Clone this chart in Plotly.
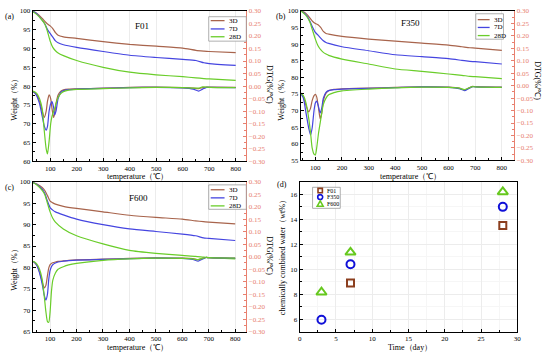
import plotly.graph_objects as go

# ---------------- data ----------------
series_names = ["3D", "7D", "28D"]

# Panel (a) F01 - TG (weight %)
temp_tg_a = [30, 50, 70, 80, 90, 100, 110, 120, 130, 150, 200, 300, 400, 500, 600, 650, 680, 700, 800]
f01_tg_3d = [100, 99.3, 98.0, 97.2, 96.5, 96.0, 95.3, 94.2, 93.5, 93.1, 92.7, 91.8, 91.1, 90.6, 90.1, 89.5, 89.3, 89.2, 88.9]
f01_tg_7d = [100, 99.2, 97.5, 96.5, 95.0, 94.0, 93.0, 92.0, 91.5, 91.0, 90.3, 89.2, 88.2, 87.6, 87.1, 86.8, 86.2, 86.0, 85.5]
f01_tg_28d = [100, 99.0, 97.5, 96.5, 94.5, 92.0, 90.3, 89.4, 88.8, 88.1, 86.8, 85.0, 83.7, 83.0, 82.5, 82.2, 82.0, 81.9, 81.5]

# Panel (a) F01 - DTG (%/℃)
temp_dtg_a = [30, 40, 50, 60, 70, 78, 85, 90, 96, 102, 107, 113, 117, 122, 130, 140, 150, 170, 200, 300, 400, 500, 600, 640, 660, 675, 690, 700, 800]
f01_dtg_3d = [-0.02, -0.025, -0.035, -0.06, -0.10, -0.125, -0.10, -0.06, -0.035, -0.05, -0.09, -0.125, -0.11, -0.07, -0.035, -0.02, -0.015, -0.012, -0.011, -0.008, -0.005, -0.004, -0.006, -0.008, -0.010, -0.006, -0.004, -0.004, -0.005]
f01_dtg_7d = [-0.02, -0.025, -0.04, -0.07, -0.12, -0.16, -0.175, -0.16, -0.10, -0.07, -0.062, -0.085, -0.115, -0.10, -0.05, -0.025, -0.018, -0.014, -0.012, -0.009, -0.006, -0.005, -0.007, -0.012, -0.020, -0.012, -0.005, -0.005, -0.006]
f01_dtg_28d = [-0.02, -0.022, -0.03, -0.05, -0.09, -0.18, -0.25, -0.27, -0.22, -0.15, -0.12, -0.10, -0.09, -0.07, -0.045, -0.03, -0.022, -0.016, -0.013, -0.010, -0.007, -0.005, -0.006, -0.008, -0.008, -0.003, -0.004, -0.005, -0.006]

# Panel (b) F350 - TG
temp_tg_b = [45, 60, 70, 80, 90, 100, 110, 120, 130, 140, 150, 200, 300, 400, 500, 600, 650, 680, 700, 800]
f350_tg_3d = [100, 99.5, 98.8, 97.8, 96.8, 96.2, 95.8, 95.0, 93.8, 93.2, 93.0, 92.3, 91.5, 90.9, 90.3, 89.7, 89.2, 88.9, 88.8, 88.1]
f350_tg_7d = [100, 99.2, 98.3, 96.8, 95.0, 93.5, 92.7, 91.8, 91.0, 90.5, 90.2, 89.2, 88.0, 86.8, 86.2, 85.6, 85.1, 84.8, 84.7, 84.0]
f350_tg_28d = [100, 99.0, 98.0, 96.5, 94.0, 91.5, 89.5, 88.3, 87.5, 87.0, 86.6, 85.5, 84.0, 82.5, 81.8, 81.0, 80.6, 80.3, 80.2, 79.6]

# Panel (b) F350 - DTG
temp_dtg_b = [45, 55, 65, 75, 82, 88, 95, 100, 105, 112, 118, 124, 130, 140, 150, 170, 200, 300, 400, 500, 600, 640, 660, 675, 690, 700, 800]
f350_dtg_3d = [-0.03, -0.045, -0.08, -0.105, -0.09, -0.06, -0.04, -0.035, -0.045, -0.09, -0.133, -0.11, -0.06, -0.03, -0.02, -0.015, -0.013, -0.010, -0.007, -0.005, -0.006, -0.010, -0.018, -0.010, -0.003, -0.004, -0.006]
f350_dtg_7d = [-0.03, -0.05, -0.11, -0.17, -0.198, -0.17, -0.10, -0.07, -0.062, -0.085, -0.11, -0.09, -0.05, -0.027, -0.02, -0.016, -0.014, -0.011, -0.008, -0.005, -0.007, -0.012, -0.020, -0.012, -0.004, -0.005, -0.007]
f350_dtg_28d = [-0.03, -0.04, -0.07, -0.13, -0.19, -0.25, -0.275, -0.278, -0.25, -0.19, -0.15, -0.11, -0.075, -0.05, -0.037, -0.028, -0.021, -0.014, -0.009, -0.006, -0.007, -0.010, -0.016, -0.010, -0.004, -0.005, -0.007]

# Panel (c) F600 - TG
temp_tg_c = [30, 50, 70, 80, 90, 100, 110, 120, 150, 200, 300, 400, 500, 600, 650, 680, 700, 800]
f600_tg_3d = [100, 99.5, 98.7, 98.0, 96.8, 95.5, 95.1, 94.8, 94.3, 93.8, 93.0, 92.2, 91.7, 91.3, 90.9, 90.7, 90.6, 90.2]
f600_tg_7d = [100, 99.4, 98.3, 97.3, 95.5, 94.0, 93.4, 93.0, 92.3, 91.3, 90.0, 89.0, 88.4, 87.8, 87.4, 86.9, 86.8, 86.3]
f600_tg_28d = [100, 99.3, 98.0, 97.0, 95.0, 93.0, 91.5, 90.6, 89.0, 87.4, 85.5, 84.0, 83.3, 82.8, 82.6, 82.4, 82.3, 82.0]

# Panel (c) F600 - DTG
temp_dtg_c = [30, 40, 50, 60, 70, 78, 84, 90, 95, 100, 105, 110, 120, 130, 150, 170, 200, 300, 400, 500, 600, 640, 660, 675, 690, 700, 800]
f600_dtg_3d = [-0.017, -0.022, -0.035, -0.06, -0.10, -0.125, -0.115, -0.075, -0.045, -0.032, -0.027, -0.024, -0.021, -0.019, -0.017, -0.015, -0.013, -0.010, -0.007, -0.005, -0.006, -0.008, -0.012, -0.007, -0.003, -0.004, -0.006]
f600_dtg_7d = [-0.017, -0.022, -0.035, -0.065, -0.11, -0.155, -0.174, -0.15, -0.09, -0.055, -0.04, -0.032, -0.025, -0.021, -0.018, -0.016, -0.014, -0.011, -0.008, -0.006, -0.007, -0.011, -0.018, -0.010, -0.003, -0.004, -0.007]
f600_dtg_28d = [-0.017, -0.02, -0.03, -0.05, -0.09, -0.16, -0.22, -0.26, -0.263, -0.22, -0.14, -0.095, -0.065, -0.05, -0.04, -0.033, -0.027, -0.015, -0.009, -0.006, -0.007, -0.009, -0.012, -0.007, -0.003, -0.004, -0.006]

# Panel (d) chemically combined water
water_names = ["F01", "F350", "F600"]
days_f01 = [7, 28]
water_f01 = [8.9, 13.5]
days_f350 = [3, 7, 28]
water_f350 = [5.95, 10.4, 15.0]
days_f600 = [3, 7, 28]
water_f600 = [8.15, 11.35, 16.2]

# ---------------- style ----------------
C3, C7, C28 = "#A8644C", "#4545E0", "#6ACD2A"
CF01, CF350, CF600 = "#8B3E1E", "#1010D8", "#66C81E"
RED = "#E8806F"
FONT = "Liberation Serif"
GRID = "#ececec"
colors = [C3, C7, C28]
W, H = 550, 358

fig = go.Figure()

panels = [
    ("x", "y", "y5", temp_tg_a, [f01_tg_3d, f01_tg_7d, f01_tg_28d], temp_dtg_a, [f01_dtg_3d, f01_dtg_7d, f01_dtg_28d]),
    ("x2", "y2", "y6", temp_tg_b, [f350_tg_3d, f350_tg_7d, f350_tg_28d], temp_dtg_b, [f350_dtg_3d, f350_dtg_7d, f350_dtg_28d]),
    ("x3", "y3", "y7", temp_tg_c, [f600_tg_3d, f600_tg_7d, f600_tg_28d], temp_dtg_c, [f600_dtg_3d, f600_dtg_7d, f600_dtg_28d]),
]
for xa, ya, ya2, ttg, tgs, tdtg, dtgs in panels:
    for name, col, tg in zip(series_names, colors, tgs):
        fig.add_trace(go.Scatter(x=ttg, y=tg, mode="lines", name=name,
                                 line=dict(color=col, width=1.2, shape="spline", smoothing=0.6),
                                 xaxis=xa, yaxis=ya, showlegend=False))
    for name, col, d in zip(series_names, colors, dtgs):
        fig.add_trace(go.Scatter(x=tdtg, y=d, mode="lines", name=name,
                                 line=dict(color=col, width=1.2, shape="spline", smoothing=0.6),
                                 xaxis=xa, yaxis=ya2, showlegend=False))

fig.add_trace(go.Scatter(x=days_f01, y=water_f01, mode="markers", name="F01", xaxis="x4", yaxis="y4", showlegend=False,
                         marker=dict(symbol="square-open", color=CF01, size=7, line=dict(width=2))))
fig.add_trace(go.Scatter(x=days_f350, y=water_f350, mode="markers", name="F350", xaxis="x4", yaxis="y4", showlegend=False,
                         marker=dict(symbol="circle-open", color=CF350, size=8, line=dict(width=2))))
fig.add_trace(go.Scatter(x=days_f600, y=water_f600, mode="markers", name="F600", xaxis="x4", yaxis="y4", showlegend=False,
                         marker=dict(symbol="triangle-up-open", color=CF600, size=9, line=dict(width=2))))


def dx(a, b):
    return [a / W, b / W]


def dy(top, bot):
    return [1 - bot / H, 1 - top / H]


tickfont = dict(family=FONT, size=7, color="black")
redfont = dict(family=FONT, size=7, color=RED)


def xax(dom, anchor, rng, dtick, grid_minor=False):
    d = dict(domain=dom, anchor=anchor, range=rng, dtick=dtick, showline=True, linecolor="black", linewidth=1,
             mirror=True, ticks="inside", ticklen=3, tickwidth=1, tickcolor="black", tickfont=tickfont,
             showgrid=True, gridcolor=GRID, gridwidth=0.6, zeroline=False,
             minor=dict(ticks="inside", ticklen=2, tickcolor="black", dtick=dtick / 2))
    if grid_minor:
        d["minor"]["showgrid"] = True
        d["minor"]["gridcolor"] = "#f6f6f6"
    return d


def yax(dom, anchor, rng, dtick, grid=False, mirror=False):
    d = dict(domain=dom, anchor=anchor, range=rng, dtick=dtick, showline=True, linecolor="black", linewidth=1,
             mirror=mirror, ticks="inside", ticklen=3, tickwidth=1, tickcolor="black", tickfont=tickfont,
             showgrid=grid, gridcolor=GRID, gridwidth=0.6, zeroline=False,
             minor=dict(ticks="inside", ticklen=2, tickcolor="black", dtick=dtick / 2))
    if grid:
        d["minor"]["showgrid"] = True
        d["minor"]["gridcolor"] = "#f6f6f6"
    return d


def y2ax(over, anchor):
    return dict(overlaying=over, anchor=anchor, side="right", range=[-0.30, 0.30], dtick=0.05, tickformat=".2f",
                showline=True, linecolor=RED, linewidth=1, ticks="inside", ticklen=3, tickcolor=RED,
                tickfont=redfont, showgrid=False, zeroline=False,
                minor=dict(ticks="inside", ticklen=2, tickcolor=RED, dtick=0.025))


fig.update_layout(
    width=W, height=H, margin=dict(l=0, r=0, t=0, b=0),
    paper_bgcolor="white", plot_bgcolor="white",
    font=dict(family=FONT, size=8, color="black"),
    showlegend=False,
    xaxis=xax(dx(31, 247), "y", [34, 840], 100),
    yaxis=yax(dy(7, 161), "x", [60, 100], 5),
    yaxis5=y2ax("y", "x"),
    xaxis2=xax(dx(302, 518), "y2", [45, 847], 100),
    yaxis2=yax(dy(7, 160), "x2", [55, 100], 5),
    yaxis6=y2ax("y2", "x2"),
    xaxis3=xax(dx(31, 247), "y3", [34, 842], 100),
    yaxis3=yax(dy(182, 335), "x3", [65, 100], 5),
    yaxis7=y2ax("y3", "x3"),
    xaxis4=xax(dx(301, 521), "y4", [0, 30], 5, grid_minor=True),
    yaxis4=yax(dy(182, 335), "x4", [5, 17], 2, grid=True, mirror=True),
)


def ann(text, x, y, size=8, angle=0, color="black", xanchor="center", yanchor="middle"):
    fig.add_annotation(text=text, x=x / W, y=1 - y / H, xref="paper", yref="paper", showarrow=False,
                       font=dict(family=FONT, size=size, color=color), textangle=angle,
                       xanchor=xanchor, yanchor=yanchor)


def pshape(**kw):
    fig.add_shape(xref="paper", yref="paper", layer="above", **kw)


# ---- custom legends (line keys) ----
def line_legend(box, x0, x1, xt, ys):
    bl, bt, br, bb = box
    pshape(type="rect", x0=bl / W, x1=br / W, y0=1 - bb / H, y1=1 - bt / H,
           line=dict(color="#8c8c8c", width=0.7), fillcolor="white")
    for name, col, yy in zip(series_names, colors, ys):
        pshape(type="line", x0=x0 / W, x1=x1 / W, y0=1 - yy / H, y1=1 - yy / H, line=dict(color=col, width=1.3))
        ann(name, xt, yy, 7, xanchor="left")


line_legend((209, 13, 247, 38), 211, 225, 227, [17, 25.5, 33.5])
line_legend((479, 10, 507, 36), 481, 493, 495, [16, 24, 32.3])
line_legend((209, 185, 247, 210), 211, 225, 227, [190, 198.3, 206.5])

# ---- legend for panel (d) (marker keys) ----
pshape(type="rect", x0=314 / W, x1=342 / W, y0=1 - 209 / H, y1=1 - 187.5 / H,
       line=dict(color="#8c8c8c", width=0.7), fillcolor="white")
mx = 321.7
leg_y = [190.8, 197.5, 204.3]
r = 2.2
pshape(type="rect", x0=(mx - r) / W, x1=(mx + r) / W, y0=1 - (leg_y[0] + r) / H, y1=1 - (leg_y[0] - r) / H,
       line=dict(color=CF01, width=1.6))
pshape(type="circle", x0=(mx - r - 0.3) / W, x1=(mx + r + 0.3) / W, y0=1 - (leg_y[1] + r + 0.3) / H,
       y1=1 - (leg_y[1] - r - 0.3) / H, line=dict(color=CF350, width=1.6))
t = leg_y[2]
pshape(type="path",
       path=f"M {(mx - 3) / W} {1 - (t + 2.5) / H} L {(mx + 3) / W} {1 - (t + 2.5) / H} L {mx / W} {1 - (t - 3) / H} Z",
       line=dict(color=CF600, width=1.6))
for name, yy in zip(water_names, leg_y):
    ann(name, 326.5, yy, 6, xanchor="left")

# panel labels
ann("(a)", 8, 13, 8)
ann("(b)", 282, 13, 8)
ann("(c)", 8, 188, 8)
ann("(d)", 283, 185, 8)
# sample titles
ann("F01", 142, 23, 9)
ann("F350", 413, 19, 9)
ann("F600", 138, 198, 9)
# axis titles
ann("Weight（%）", 13, 96, 8, -90)
ann("Weight（%）", 283, 96, 8, -90)
ann("Weight（%）", 13, 270, 8, -90)
ann("DTG(%/℃)", 271, 82, 8, 90)
ann("DTG(%/℃)", 542, 78, 8, 90)
ann("DTG(%/℃)", 271, 257, 8, 90)
ann("temperature（℃）", 137, 176.5, 8)
ann("temperature（℃）", 413, 176.5, 8)
ann("temperature（℃）", 137, 351.5, 8)
ann("Time（day）", 412, 351.5, 8)
ann("chemically combined water（wt%）", 283, 257, 8, -90)

fig.write_html("out.html", config={"displayModeBar": False},
               post_script="document.body.style.margin='0px';")
